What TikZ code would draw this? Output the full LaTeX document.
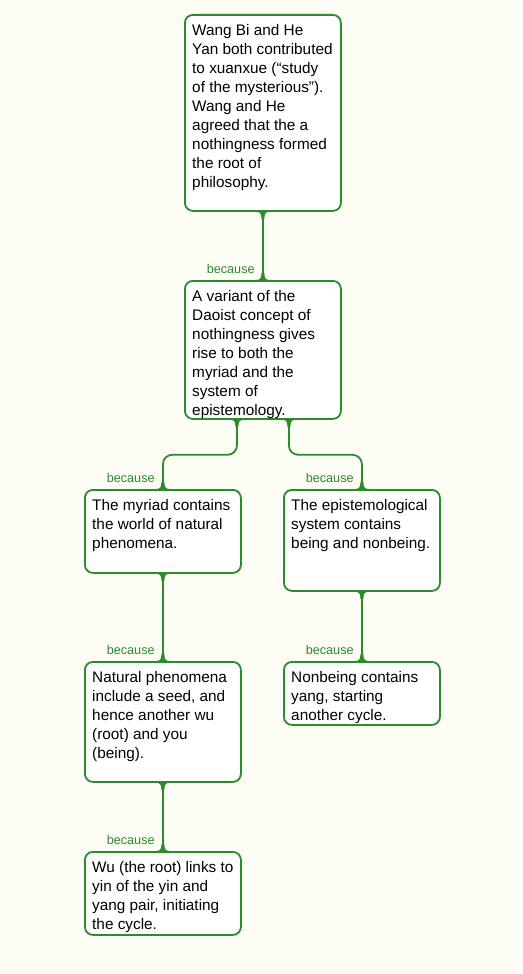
\documentclass[tikz,border=0pt]{standalone}
\usepackage{fontspec}
\setmainfont{Liberation Sans}
\usepackage{tikz}
\usetikzlibrary{positioning, calc}

\definecolor{linkgreen}{RGB}{45,138,45}
\definecolor{paper}{RGB}{253,253,246}

% text block of a statement box, kept at the top of the box
\newcommand{\stmttext}[2]{\parbox[c][#1][t]{106pt}{\raggedright\fontsize{11.5pt}{14.25pt}\selectfont\rule{0pt}{15.75pt}#2}}

\begin{document}
\begin{tikzpicture}[x=0.75pt, y=0.75pt, line width=1.35pt,
    stmt/.style={draw=linkgreen, fill=white, rounded corners=6pt, anchor=north west,
        inner xsep=5.5pt, inner ysep=0pt, minimum width=117pt},
    link/.style={draw=linkgreen, rounded corners=7pt},
    because/.style={anchor=base east, inner sep=0pt, xshift=-5.5pt, yshift=5.25pt,
        text=linkgreen, font=\fontsize{9.5pt}{11pt}\selectfont},
    flare/.pic={\fill[linkgreen] (-7,0.5) -- (-7,0) .. controls (-2.5,0) and (-1.5,-2) .. (-1.5,-7)
        -- (1.5,-7) .. controls (1.5,-2) and (2.5,0) .. (7,0) -- (7,0.5) -- cycle;}]

    % ================= Page =================
    \fill[paper] (0,0) rectangle (522,-974);
    \useasboundingbox (0,0) rectangle (522,-974);

    % ================= Top claim =================
    \node[stmt] (wang) at (184,-14) {\stmttext{147pt}{Wang Bi and He\\ Yan both contributed\\ to xuanxue (“study\\ of the mysterious”).\\ Wang and He\\ agreed that the a\\ nothingness formed\\ the root of\\ philosophy.}};

    % ================= Middle claim =================
    \node[stmt] (variant) at (184,-280) {\stmttext{103.5pt}{A variant of the\\ Daoist concept of\\ nothingness gives\\ rise to both the\\ myriad and the\\ system of\\ epistemology.}};

    % ================= Left branch =================
    \node[stmt] (myriad) at (84,-489) {\stmttext{62.25pt}{The myriad contains\\ the world of natural\\ phenomena.}};
    \node[stmt] (natural) at (84,-661) {\stmttext{90pt}{Natural phenomena\\ include a seed, and\\ hence another wu\\ (root) and you\\ (being).}};
    \node[stmt] (wu) at (84,-851) {\stmttext{62.25pt}{Wu (the root) links to\\ yin of the yin and\\ yang pair, initiating\\ the cycle.}};

    % ================= Right branch =================
    \node[stmt] (episteme) at (283,-489) {\stmttext{75.75pt}{The epistemological\\ system contains\\ being and nonbeing.}};
    \node[stmt] (nonbeing) at (283,-661) {\stmttext{47.25pt}{Nonbeing contains\\ yang, starting\\ another cycle.}};

    % ================= Links =================
    \draw[link] (wang.south) -- (variant.north) node[because] {because};
    \draw[link] ([xshift=-19.5pt]variant.south) -- ++(0,-35) -| (myriad.north) node[because] {because};
    \draw[link] ([xshift=19.5pt]variant.south) -- ++(0,-35) -| (episteme.north) node[because] {because};
    \draw[link] (myriad.south) -- (natural.north) node[because] {because};
    \draw[link] (natural.south) -- (wu.north) node[because] {because};
    \draw[link] (episteme.south) -- (nonbeing.north) node[because] {because};

    % flares where the links meet the boxes
    \foreach \n in {wang, myriad, natural, episteme}
        \pic at (\n.south) {flare};
    \pic at ([xshift=-19.5pt]variant.south) {flare};
    \pic at ([xshift=19.5pt]variant.south) {flare};
    \foreach \n in {variant, myriad, natural, wu, episteme, nonbeing}
        \pic[rotate=180] at (\n.north) {flare};

\end{tikzpicture}
\end{document}
